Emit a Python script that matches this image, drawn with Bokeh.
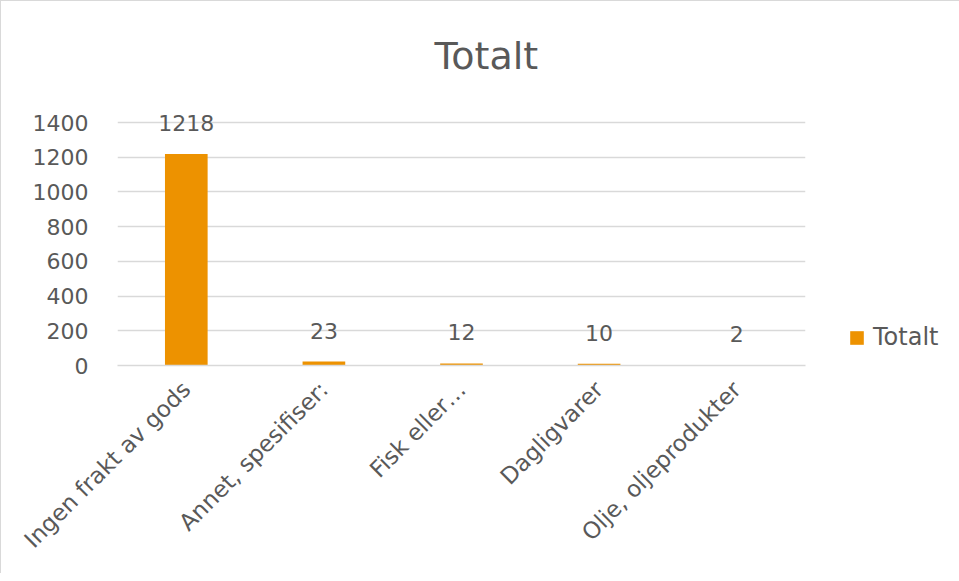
from bokeh.plotting import figure
from bokeh.models import ColumnDataSource, Range1d, FactorRange, Legend, LegendItem, FixedTicker
from bokeh.embed import file_html
from bokeh.resources import INLINE
from bokeh.core.properties import value
import math

categories = ["Ingen frakt av gods", "Annet, spesifiser:", "Fisk eller…", "Dagligvarer", "Olje, oljeprodukter"]
values = [1218, 23, 12, 10, 2]
labels = [str(v) for v in values]
y_ticks = [0, 200, 400, 600, 800, 1000, 1200, 1400]
series_name = "Totalt"
title_text = "Totalt"

FONT = "DejaVu Sans"
TXT = "#595959"
GRID = "#D9D9D9"
BAR = "#ED9200"

# axis maximum 1400 at the 243px plot height; extra headroom so the top data label is not clipped
EXTRA_PX = 16
PLOT_H = 243
y_max = 1400 * (PLOT_H + EXTRA_PX) / PLOT_H

src = ColumnDataSource(dict(cat=categories, val=values, lab=labels))

p = figure(
    x_range=FactorRange(*categories, range_padding=0),
    y_range=Range1d(0, y_max),
    frame_width=688, frame_height=PLOT_H + EXTRA_PX,
    min_border_left=116, min_border_top=121 - EXTRA_PX, min_border_bottom=208, min_border_right=146,
    output_backend="svg", toolbar_location=None,
)
p.x_range.range_padding = 0
p.outline_line_color = None
p.background_fill_color = "white"
p.border_fill_color = "white"
p.styles = {"border-left": "1px solid #D9D9D9", "border-top": "1px solid #D9D9D9"}

p.title.text = title_text
p.title.align = "left"
p.title.offset = 317
p.title.text_font = FONT
p.title.text_font_size = "38px"
p.title.text_font_style = "normal"
p.title.text_color = TXT
p.title.standoff = 74 - EXTRA_PX

r = p.vbar(x="cat", top="val", width=0.31, source=src, fill_color=BAR, line_color=None)

p.text(x="cat", y="val", text="lab", source=src, text_align="center", text_baseline="alphabetic",
       y_offset=-31, text_font=value(FONT), text_font_size="22px", text_color=TXT)

p.xgrid.visible = False
p.ygrid.grid_line_color = GRID
p.ygrid.grid_line_width = 1.5
p.yaxis.ticker = FixedTicker(ticks=y_ticks)

p.yaxis.axis_line_color = None
p.yaxis.major_tick_line_color = None
p.yaxis.minor_tick_line_color = None
p.yaxis.major_label_text_font = FONT
p.yaxis.major_label_text_font_size = "22px"
p.yaxis.major_label_text_color = TXT
p.yaxis.major_label_standoff = 23

p.xaxis.axis_line_color = GRID
p.xaxis.axis_line_width = 1.5
p.xaxis.major_tick_line_color = None
p.xaxis.minor_tick_line_color = None
p.xaxis.major_label_orientation = math.pi / 4
p.xaxis.major_label_text_font = FONT
p.xaxis.major_label_text_font_size = "23px"
p.xaxis.major_label_text_color = TXT
p.xaxis.major_label_standoff = 14

legend = Legend(items=[LegendItem(label=series_name, renderers=[r])], location=(43, 14),
                label_text_font=FONT, label_text_font_size="24px", label_text_color=TXT,
                glyph_width=17, glyph_height=17, padding=8, spacing=0, label_standoff=8,
                margin=0, border_line_color=None, background_fill_alpha=0)
p.add_layout(legend, "right")

open("out.html", "w").write(file_html(p, INLINE))
